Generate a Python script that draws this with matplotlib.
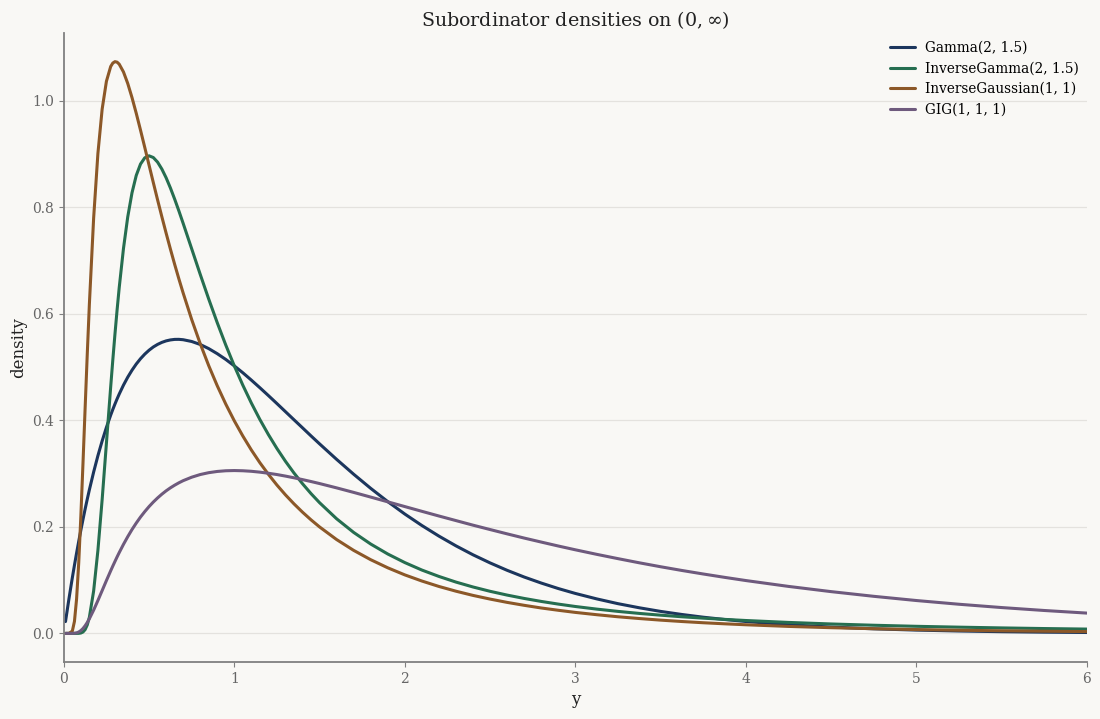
import matplotlib
matplotlib.use("Agg")
import matplotlib.pyplot as plt

y = [0.01, 0.03, 0.05, 0.0625, 0.075, 0.0875, 0.1, 0.1125, 0.125, 0.1375,
     0.15, 0.175, 0.2, 0.225, 0.25, 0.275, 0.2875, 0.3, 0.3125, 0.325, 0.35, 0.375,
     0.4, 0.425, 0.45, 0.475, 0.5, 0.525, 0.55, 0.575, 0.6, 0.625,
     0.65, 0.675, 0.7, 0.75, 0.8, 0.85, 0.9, 0.95, 1.0, 1.05,
     1.1, 1.15, 1.2, 1.25, 1.3, 1.35, 1.4, 1.45, 1.5, 1.6,
     1.7, 1.8, 1.9, 2.0, 2.1, 2.2, 2.3, 2.4, 2.5, 2.6,
     2.7, 2.8, 2.9, 3.0, 3.125, 3.25, 3.375, 3.5, 3.625, 3.75,
     3.875, 4.0, 4.25, 4.5, 4.75, 5.0, 5.25, 5.5, 5.75, 6.0]

gamma = [0.0222, 0.0645, 0.1044, 0.1280, 0.1508, 0.1727, 0.1937, 0.2138, 0.2332, 0.2517,
         0.2695, 0.3028, 0.3334, 0.3612, 0.3866, 0.4096, 0.4203, 0.4304, 0.4400, 0.4491, 0.4659, 0.4808,
         0.4939, 0.5055, 0.5155, 0.5241, 0.5314, 0.5375, 0.5423, 0.5461, 0.5489, 0.5507,
         0.5517, 0.5518, 0.5511, 0.5478, 0.5422, 0.5344, 0.5249, 0.5141, 0.5020, 0.4891,
         0.4753, 0.4610, 0.4463, 0.4313, 0.4161, 0.4009, 0.3858, 0.3706, 0.3557, 0.3266,
         0.2987, 0.2722, 0.2473, 0.2240, 0.2025, 0.1826, 0.1643, 0.1475, 0.1323, 0.1184,
         0.1058, 0.0945, 0.0842, 0.0750, 0.0648, 0.0558, 0.0481, 0.0413, 0.0355, 0.0304,
         0.0261, 0.0223, 0.0163, 0.0119, 0.0086, 0.0062, 0.0045, 0.0032, 0.0023, 0.0017]

inv_gamma = [0.0, 0.0, 0.0, 0.0, 0.0, 0.0001, 0.0007, 0.0026, 0.0071, 0.0158,
             0.0303, 0.0796, 0.1556, 0.2514, 0.3570, 0.4627, 0.5133, 0.5615, 0.6068, 0.6488, 0.7223, 0.7815,
             0.8268, 0.8595, 0.8808, 0.8925, 0.8962, 0.8930, 0.8844, 0.8714, 0.8551, 0.8361,
             0.8151, 0.7928, 0.7695, 0.7218, 0.6739, 0.6274, 0.5830, 0.5411, 0.5020, 0.4658,
             0.4323, 0.4014, 0.3731, 0.3470, 0.3230, 0.3010, 0.2809, 0.2623, 0.2453, 0.2151,
             0.1895, 0.1677, 0.1490, 0.1329, 0.1189, 0.1069, 0.0963, 0.0871, 0.0790, 0.0719,
             0.0656, 0.0600, 0.0550, 0.0505, 0.0456, 0.0413, 0.0375, 0.0342, 0.0312, 0.0286,
             0.0263, 0.0242, 0.0206, 0.0177, 0.0153, 0.0133, 0.0117, 0.0103, 0.0091, 0.0081]

inv_gauss = [0.0, 0.0, 0.0043, 0.0226, 0.0647, 0.1323, 0.2198, 0.3190, 0.4222, 0.5232,
             0.6178, 0.7794, 0.9005, 0.9840, 1.0361, 1.0638, 1.0703, 1.0729, 1.0720, 1.0682, 1.0536, 1.0320,
             1.0055, 0.9759, 0.9443, 0.9118, 0.8788, 0.8460, 0.8136, 0.7820, 0.7513, 0.7215,
             0.6928, 0.6652, 0.6388, 0.5891, 0.5438, 0.5024, 0.4647, 0.4303, 0.3989, 0.3704,
             0.3442, 0.3203, 0.2985, 0.2784, 0.2600, 0.2431, 0.2275, 0.2131, 0.1998, 0.1761,
             0.1558, 0.1383, 0.1231, 0.1098, 0.0983, 0.0881, 0.0792, 0.0713, 0.0644, 0.0582,
             0.0527, 0.0477, 0.0434, 0.0394, 0.0351, 0.0312, 0.0279, 0.0249, 0.0223, 0.0200,
             0.0180, 0.0162, 0.0131, 0.0107, 0.0088, 0.0072, 0.0059, 0.0049, 0.0041, 0.0034]

gig = [0.0, 0.0, 0.0, 0.0003, 0.0010, 0.0026, 0.0053, 0.0092, 0.0143, 0.0204,
       0.0275, 0.0437, 0.0617, 0.0804, 0.0992, 0.1175, 0.1264, 0.1350, 0.1435, 0.1516, 0.1671, 0.1815,
       0.1949, 0.2071, 0.2184, 0.2286, 0.2380, 0.2465, 0.2542, 0.2612, 0.2675, 0.2731,
       0.2781, 0.2826, 0.2866, 0.2931, 0.2981, 0.3016, 0.3039, 0.3052, 0.3056, 0.3052,
       0.3042, 0.3026, 0.3005, 0.2981, 0.2952, 0.2920, 0.2886, 0.2850, 0.2812, 0.2731,
       0.2646, 0.2558, 0.2469, 0.2380, 0.2291, 0.2203, 0.2117, 0.2031, 0.1949, 0.1868,
       0.1789, 0.1714, 0.1640, 0.1569, 0.1484, 0.1403, 0.1325, 0.1251, 0.1181, 0.1115,
       0.1052, 0.0992, 0.0882, 0.0784, 0.0696, 0.0617, 0.0547, 0.0485, 0.0430, 0.0381]

labels = ["Gamma(2, 1.5)", "InverseGamma(2, 1.5)", "InverseGaussian(1, 1)", "GIG(1, 1, 1)"]
colors = ["#1c365d", "#266e50", "#8c5828", "#6e5a7d"]

bg = "#f9f8f5"
plt.rcParams["font.family"] = "DejaVu Serif"
plt.rcParams["mathtext.fontset"] = "dejavuserif"

fig = plt.figure(figsize=(11, 7.19), dpi=100, facecolor=bg)
ax = fig.add_axes([0.058, 0.0793, 0.930, 0.8747], facecolor=bg)

for series, label, color in zip([gamma, inv_gamma, inv_gauss, gig], labels, colors):
    ax.plot(y, series, color=color, lw=2.2, label=label,
            solid_joinstyle="round", solid_capstyle="round")

ax.set_xlim(0, 6)
ax.grid(axis="y", color="#e4e2de", lw=0.9)
ax.set_axisbelow(True)
for side in ["top", "right"]:
    ax.spines[side].set_visible(False)
for side in ["left", "bottom"]:
    ax.spines[side].set_color("#808080")
    ax.spines[side].set_linewidth(1.3)
ax.tick_params(colors="#808080", labelcolor="#666666", labelsize=10)

ax.set_xlabel("y", fontsize=12, color="#222222")
ax.set_ylabel("density", fontsize=12, color="#222222")
ax.set_title(r"Subordinator densities on $(0, \infty)$", fontsize=13.7,
             color="#222222", pad=5)
ax.legend(loc="upper right", frameon=False, fontsize=9.8, handlelength=1.8,
          borderaxespad=0.15)

fig.savefig("out.png", dpi=100, facecolor=bg)
